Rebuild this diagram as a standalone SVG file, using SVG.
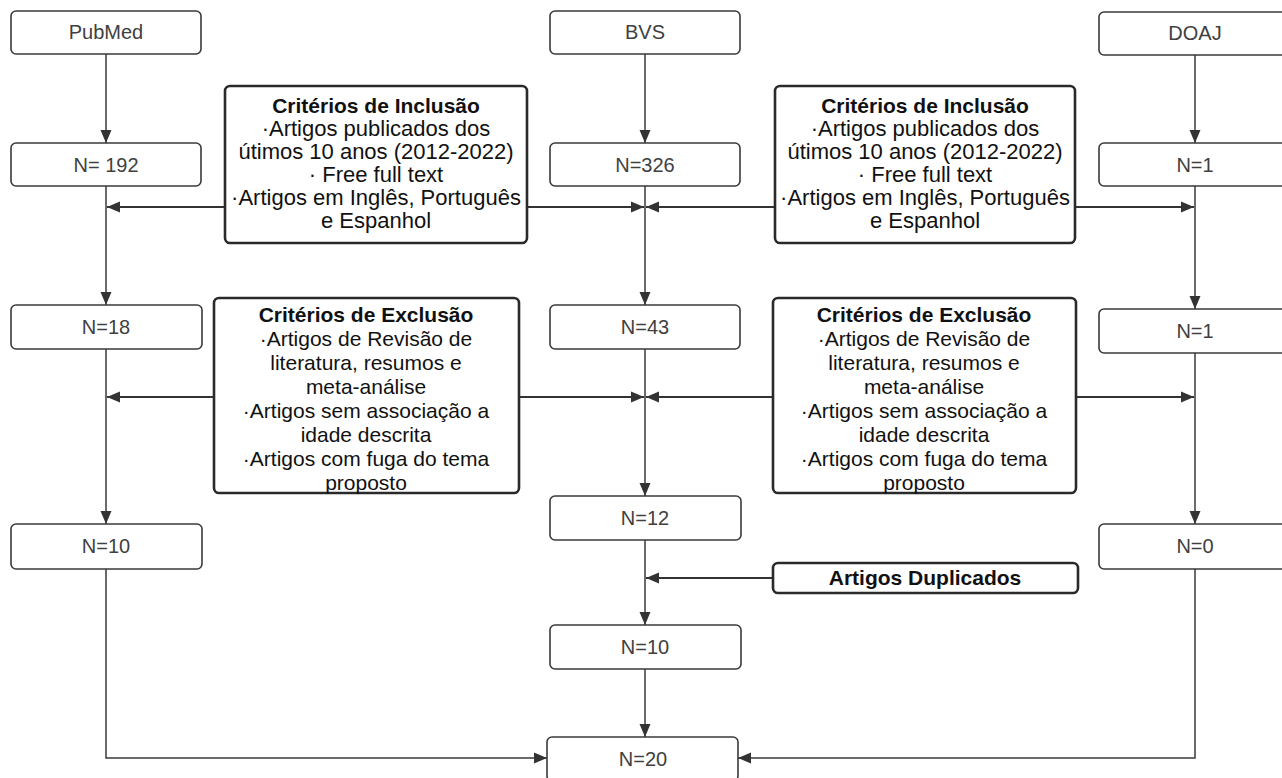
<svg xmlns="http://www.w3.org/2000/svg" width="1282" height="778" viewBox="0 0 1282 778">
<style>
.box{fill:#fff;stroke:#3a3a3a;stroke-width:1.6}
.crit{fill:#fff;stroke:#2a2a2a;stroke-width:2.6}
.t{font-family:"Liberation Sans",Arial,sans-serif;font-size:20px;fill:#404040;text-anchor:middle}
.c{font-family:"Liberation Sans",Arial,sans-serif;font-size:22px;fill:#111;text-anchor:middle}
.c2{font-family:"Liberation Sans",Arial,sans-serif;font-size:21px;fill:#111;text-anchor:middle}
.b{font-weight:bold;font-size:21px}
.ln{fill:none;stroke:#3a3a3a;stroke-width:1.5}
.lh{fill:none;stroke:#333;stroke-width:2}
</style>
<defs>
<marker id="ah" markerUnits="userSpaceOnUse" markerWidth="14" markerHeight="12" refX="13" refY="6" orient="auto">
<path d="M0,0.5 L13,6 L0,11.5 Z" fill="#333"/>
</marker>
</defs>
<rect width="1282" height="778" fill="#fff"/>
<g id="connectors">
<path class="ln" d="M106,54 V143" marker-end="url(#ah)"/>
<path class="ln" d="M106,186 V305" marker-end="url(#ah)"/>
<path class="ln" d="M106,349 V524" marker-end="url(#ah)"/>
<path class="ln" d="M106,569 V758 H547" marker-end="url(#ah)"/>
<path class="ln" d="M645,54 V143" marker-end="url(#ah)"/>
<path class="ln" d="M645,186 V305" marker-end="url(#ah)"/>
<path class="ln" d="M645,349 V496" marker-end="url(#ah)"/>
<path class="ln" d="M645,540 V625" marker-end="url(#ah)"/>
<path class="ln" d="M645,669 V737" marker-end="url(#ah)"/>
<path class="ln" d="M1195,55 V143" marker-end="url(#ah)"/>
<path class="ln" d="M1195,186 V309" marker-end="url(#ah)"/>
<path class="ln" d="M1195,353 V524" marker-end="url(#ah)"/>
<path class="ln" d="M1195,569 V758 H738" marker-end="url(#ah)"/>
<path class="lh" d="M225,207 H107" marker-end="url(#ah)"/>
<path class="lh" d="M527,207 H644" marker-end="url(#ah)"/>
<path class="lh" d="M775,207 H646" marker-end="url(#ah)"/>
<path class="lh" d="M1075,207 H1194" marker-end="url(#ah)"/>
<path class="lh" d="M214,397 H107" marker-end="url(#ah)"/>
<path class="lh" d="M519,397 H644" marker-end="url(#ah)"/>
<path class="lh" d="M773,397 H646" marker-end="url(#ah)"/>
<path class="lh" d="M1076,397 H1194" marker-end="url(#ah)"/>
<path class="lh" d="M773,578 H646" marker-end="url(#ah)"/>
</g>
<g id="pubmed"><rect class="box" x="11" y="11" width="190" height="43" rx="5"/><text class="t" x="106" y="39">PubMed</text></g>
<g id="bvs"><rect class="box" x="550" y="11" width="190" height="43" rx="5"/><text class="t" x="645" y="39">BVS</text></g>
<g id="doaj"><rect class="box" x="1099" y="12" width="190" height="43" rx="5"/><text class="t" x="1195" y="40">DOAJ</text></g>
<g id="n192"><rect class="box" x="11" y="143" width="190" height="43" rx="5"/><text class="t" x="106" y="172">N= 192</text></g>
<g id="n326"><rect class="box" x="550" y="143" width="190" height="43" rx="5"/><text class="t" x="645" y="172">N=326</text></g>
<g id="n1a"><rect class="box" x="1099" y="143" width="190" height="43" rx="5"/><text class="t" x="1195" y="172">N=1</text></g>
<g id="inc1"><rect class="crit" x="225" y="86" width="302" height="157" rx="5"/>
<text class="c b" x="376" y="113">Critérios de Inclusão</text>
<text class="c" x="376" y="136">·Artigos publicados dos</text>
<text class="c" x="376" y="159">útimos 10 anos (2012-2022)</text>
<text class="c" x="376" y="182">· Free full text</text>
<text class="c" x="376" y="205">·Artigos em Inglês, Português</text>
<text class="c" x="376" y="228">e Espanhol</text>
</g>
<g id="inc2"><rect class="crit" x="775" y="86" width="300" height="157" rx="5"/>
<text class="c b" x="925" y="113">Critérios de Inclusão</text>
<text class="c" x="925" y="136">·Artigos publicados dos</text>
<text class="c" x="925" y="159">útimos 10 anos (2012-2022)</text>
<text class="c" x="925" y="182">· Free full text</text>
<text class="c" x="925" y="205">·Artigos em Inglês, Português</text>
<text class="c" x="925" y="228">e Espanhol</text>
</g>
<g id="n18"><rect class="box" x="11" y="305" width="191" height="44" rx="5"/><text class="t" x="106" y="334">N=18</text></g>
<g id="n43"><rect class="box" x="550" y="305" width="190" height="44" rx="5"/><text class="t" x="645" y="334">N=43</text></g>
<g id="n1b"><rect class="box" x="1099" y="309" width="190" height="44" rx="5"/><text class="t" x="1195" y="338">N=1</text></g>
<g id="exc1"><rect class="crit" x="214" y="298" width="305" height="195" rx="5"/>
<text class="c2 b" x="366" y="322">Critérios de Exclusão</text>
<text class="c2" x="366" y="346">·Artigos de Revisão de</text>
<text class="c2" x="366" y="370">literatura, resumos e</text>
<text class="c2" x="366" y="394">meta-análise</text>
<text class="c2" x="366" y="418">·Artigos sem associação a</text>
<text class="c2" x="366" y="442">idade descrita</text>
<text class="c2" x="366" y="466">·Artigos com fuga do tema</text>
<text class="c2" x="366" y="490">proposto</text>
</g>
<g id="exc2"><rect class="crit" x="773" y="298" width="303" height="195" rx="5"/>
<text class="c2 b" x="924" y="322">Critérios de Exclusão</text>
<text class="c2" x="924" y="346">·Artigos de Revisão de</text>
<text class="c2" x="924" y="370">literatura, resumos e</text>
<text class="c2" x="924" y="394">meta-análise</text>
<text class="c2" x="924" y="418">·Artigos sem associação a</text>
<text class="c2" x="924" y="442">idade descrita</text>
<text class="c2" x="924" y="466">·Artigos com fuga do tema</text>
<text class="c2" x="924" y="490">proposto</text>
</g>
<g id="n10a"><rect class="box" x="11" y="524" width="191" height="45" rx="5"/><text class="t" x="106" y="553">N=10</text></g>
<g id="n12"><rect class="box" x="550" y="496" width="191" height="44" rx="5"/><text class="t" x="645" y="525">N=12</text></g>
<g id="n0"><rect class="box" x="1099" y="524" width="190" height="45" rx="5"/><text class="t" x="1195" y="553">N=0</text></g>
<g id="dup"><rect class="crit" x="773" y="563" width="305" height="30" rx="5"/><text class="c b" x="925" y="585">Artigos Duplicados</text></g>
<g id="n10b"><rect class="box" x="550" y="625" width="191" height="44" rx="5"/><text class="t" x="645" y="654">N=10</text></g>
<g id="n20"><rect class="box" x="547" y="737" width="191" height="44" rx="5"/><text class="t" x="643" y="766">N=20</text></g>
</svg>
